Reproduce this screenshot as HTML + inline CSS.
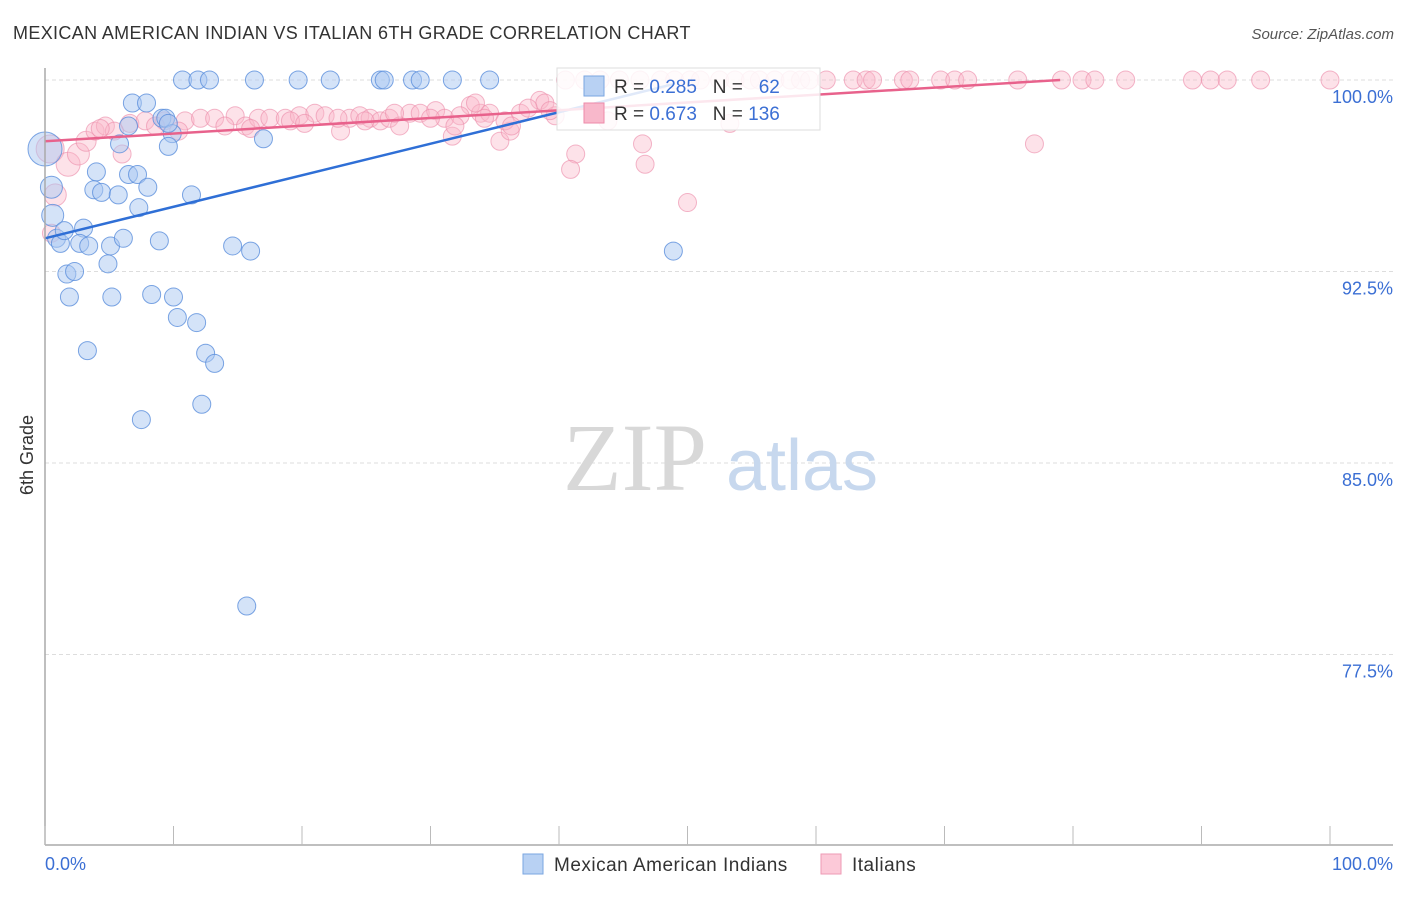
<!DOCTYPE html>
<html><head><meta charset="utf-8">
<style>
body{margin:0;background:#fff;font-family:"Liberation Sans",sans-serif;}
svg text{font-family:"Liberation Sans",sans-serif;white-space:pre;}
</style></head>
<body>
<svg id="chart" width="1406" height="892" viewBox="0 0 1406 892">
<text x="13" y="39" font-size="18" fill="#333" letter-spacing="0.35">MEXICAN AMERICAN INDIAN VS ITALIAN 6TH GRADE CORRELATION CHART</text>
<text x="1394" y="39" font-size="15" fill="#555" font-style="italic" text-anchor="end">Source: ZipAtlas.com</text>
<text x="33" y="455" font-size="18" fill="#333" text-anchor="middle" transform="rotate(-90 33 455)">6th Grade</text>
<g id="grid"></g>
<g>
<text x="635" y="490" font-size="96" fill="#d8d8d8" text-anchor="middle" style="font-family:'Liberation Serif',serif">ZIP</text>
<text x="802" y="490" font-size="72" fill="#c7d8ee" text-anchor="middle">atlas</text>
</g>
<g id="pts"></g>
<g id="trend"></g>
<g id="axes"></g>
<g>
<rect x="557" y="68" width="263" height="62" fill="#fff" fill-opacity="0.85" stroke="#ddd"/>
<rect x="584" y="76" width="20" height="20" fill="#b8d1f3" stroke="#7aa6e0"/>
<text x="614" y="93" font-size="19" fill="#333" xml:space="preserve">R = <tspan fill="#3b6fd4">0.285</tspan>   N =   <tspan fill="#3b6fd4">62</tspan></text>
<rect x="584" y="103" width="20" height="20" fill="#f8b8cb" stroke="#ee8aa9"/>
<text x="614" y="120" font-size="19" fill="#333" xml:space="preserve">R = <tspan fill="#3b6fd4">0.673</tspan>   N = <tspan fill="#3b6fd4">136</tspan></text>
</g>
<g>
<rect x="523" y="854" width="20" height="20" fill="#b8d1f3" stroke="#7aa6e0"/>
<text x="554" y="871" font-size="19" fill="#333" letter-spacing="0.5">Mexican American Indians</text>
<rect x="821" y="854" width="20" height="20" fill="#fcc9d8" stroke="#ee9ab4"/>
<text x="852" y="871" font-size="19" fill="#333" letter-spacing="0.5">Italians</text>
</g>
</svg>
<script>
const blueX=[10.7,11.9,12.8,16.3,19.7,22.2,26.1,26.4,28.6,29.2,31.7,34.6,6.8,7.9,9.1,9.4,9.9,9.6,17.0,5.8,6.5,7.2,8.0,4.0,3.8,4.4,5.7,11.4,7.3,0.6,0,0.5,0.9,1.2,1.5,3.0,2.7,3.4,5.1,6.1,8.9,14.6,16.0,4.9,1.7,2.3,1.9,5.2,8.3,10.0,10.3,11.8,12.5,13.2,3.3,12.2,7.5,15.7,48.9,9.6,6.5];
const blueY=[100,100,100,100,100,100,100,100,100,100,100,100,99.1,99.1,98.5,98.5,97.9,97.4,97.7,97.5,96.3,96.3,95.8,96.4,95.7,95.6,95.5,95.5,95.0,94.7,97.3,95.8,93.8,93.6,94.1,94.2,93.6,93.5,93.5,93.8,93.7,93.5,93.3,92.8,92.4,92.5,91.5,91.5,91.6,91.5,90.7,90.5,89.3,88.9,89.4,87.3,86.7,79.4,93.3,98.3,98.2];
const blueR=[9,9,9,9,9,9,9,9,9,9,9,9,9,9,9,9,9,9,9,9,9,9,9,9,9,9,9,9,9,11,17,11,9,9,9,9,9,9,9,9,9,9,9,9,9,9,9,9,9,9,9,9,9,9,9,9,9,9,9,9,9];
const pinkX=[40.5,42.0,43.2,44.7,46.3,47.9,49.0,50.2,51.0,52.5,53.7,54.9,55.6,56.8,58.0,58.8,59.5,60.8,62.9,63.9,64.4,66.8,67.3,69.7,70.8,71.8,75.7,79.1,80.7,81.7,84.1,89.3,90.7,92.0,94.6,100,46.5,46.7,41.3,40.9,50.0,77.0,43.8,53.3,35.4,36.2,38.5,38.9,33.1,33.9,0.4,0.8,1.8,2.6,3.2,3.9,4.7,6.0,6.6,7.8,9.3,10.9,12.1,13.2,14.8,15.6,16.6,17.5,18.7,19.8,21.0,21.8,23.0,23.7,24.5,25.3,26.1,26.8,27.6,28.4,29.2,30.4,31.1,31.7,32.3,33.5,34.6,35.8,37.0,37.6,39.7,22.8,14.0,10.4,16.0,19.1,20.2,24.9,27.2,30.0,31.9,34.2,36.3,39.3,5.4,8.6,0.5,4.3];
const pinkY=[100,100,100,100,100,100,100,100,100,100,100,100,100,100,100,100,100,100,100,100,100,100,100,100,100,100,100,100,100,100,100,100,100,100,100,100,97.5,96.7,97.1,96.5,95.2,97.5,98.4,98.3,97.6,98.0,99.2,99.1,99.0,98.7,97.3,95.5,96.7,97.1,97.6,98.0,98.2,97.1,98.3,98.4,98.4,98.4,98.5,98.5,98.6,98.2,98.5,98.5,98.5,98.6,98.7,98.6,98.0,98.5,98.6,98.5,98.4,98.5,98.2,98.7,98.7,98.8,98.5,97.8,98.6,99.1,98.7,98.4,98.7,98.9,98.6,98.5,98.2,98.0,98.1,98.4,98.3,98.4,98.7,98.5,98.2,98.5,98.2,98.8,98.0,98.2,94.0,98.1];
const pinkBig={50:14,51:11,52:12,53:11,54:10};
const blueTrend=[[0,93.8],[49,99.85]];
const pinkTrend=[[0,97.6],[79,100]];
const yTicks=[100,92.5,85,77.5];
const yTickLabels=["100.0%","92.5%","85.0%","77.5%"];
const xTicks=[0,10,20,30,40,50,60,70,80,90,100];

const NS="http://www.w3.org/2000/svg";
const sx=v=>45+v*12.85;
const sy=v=>80+(100-v)*191.5/7.5;
function mk(tag,attrs,parent){const e=document.createElementNS(NS,tag);for(const k in attrs)e.setAttribute(k,attrs[k]);parent.appendChild(e);return e;}
const grid=document.getElementById('grid'),axes=document.getElementById('axes'),pts=document.getElementById('pts'),trend=document.getElementById('trend');
yTicks.forEach((t,i)=>{
 const l=mk('line',{x1:45,x2:1393,y1:sy(t),y2:sy(t),stroke:'#ddd','stroke-dasharray':'4,3'},grid);
 
 
 const tx=mk('text',{x:1393,y:sy(t)+23,'font-size':18,fill:'#3b6fd4','text-anchor':'end'},axes);
 tx.textContent=yTickLabels[i];
 
 
});
mk('line',{x1:45,x2:45,y1:68,y2:845,stroke:'#aaa','stroke-width':1.5},axes);
mk('line',{x1:45,x2:1393,y1:845,y2:845,stroke:'#aaa','stroke-width':1.5},axes);
xTicks.forEach(t=>{
 const l=mk('line',{x1:sx(t),x2:sx(t),y1:826,y2:845,stroke:'#bbb'},axes);
 
 
});
const x0=mk('text',{x:45,y:870,'font-size':18,fill:'#3b6fd4'},axes);x0.textContent='0.0%';


const x1=mk('text',{x:1393,y:870,'font-size':18,fill:'#3b6fd4','text-anchor':'end'},axes);x1.textContent='100.0%';


pinkX.forEach((v,i)=>{
 const c=mk('circle',{cx:sx(v),cy:sy(pinkY[i]),r:pinkBig[i]||9,fill:'#f9b6c9','fill-opacity':0.4,stroke:'#ec8fac','stroke-opacity':0.65},pts);
 
 
});
blueX.forEach((v,i)=>{
 const c=mk('circle',{cx:sx(v),cy:sy(blueY[i]),r:blueR[i],fill:'#a9c8f2','fill-opacity':0.5,stroke:'#5b8fdc','stroke-opacity':0.8},pts);
 
 
});
const bl=mk('line',{x1:sx(blueTrend[0][0]),y1:sy(blueTrend[0][1]),x2:sx(blueTrend[1][0]),y2:sy(blueTrend[1][1]),stroke:'#2f6fd6','stroke-width':2.5},trend);


const pl=mk('line',{x1:sx(pinkTrend[0][0]),y1:sy(pinkTrend[0][1]),x2:sx(pinkTrend[1][0]),y2:sy(pinkTrend[1][1]),stroke:'#e8628c','stroke-width':2.5},trend);


</script>
</body></html>
